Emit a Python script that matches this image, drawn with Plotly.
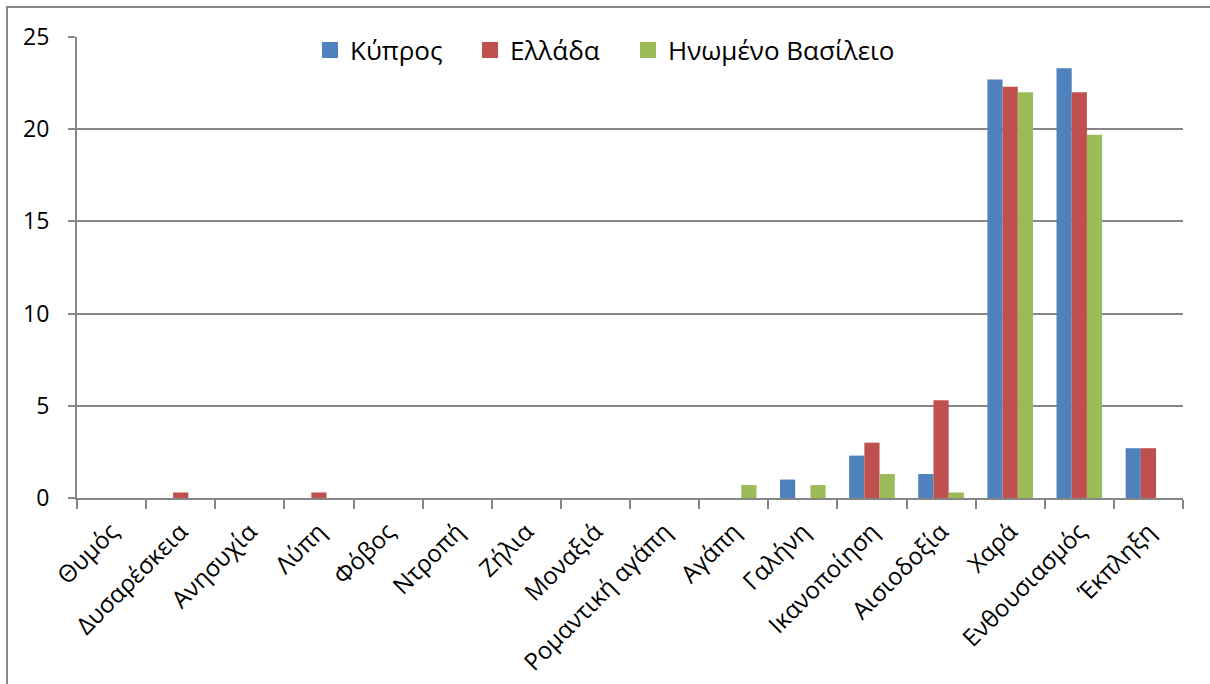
import plotly.graph_objects as go

categories = ["Θυμός", "Δυσαρέσκεια", "Ανησυχία", "Λύπη", "Φόβος", "Ντροπή", "Ζήλια",
              "Μοναξιά", "Ρομαντική αγάπη", "Αγάπη", "Γαλήνη", "Ικανοποίηση",
              "Αισιοδοξία", "Χαρά", "Ενθουσιασμός", "Έκπληξη"]
kypros = [0, 0, 0, 0, 0, 0, 0, 0, 0, 0, 1.0, 2.3, 1.3, 22.7, 23.3, 2.7]
ellada = [0, 0.3, 0, 0.3, 0, 0, 0, 0, 0, 0, 0, 3.0, 5.3, 22.3, 22.0, 2.7]
uk = [0, 0, 0, 0, 0, 0, 0, 0, 0, 0.7, 0.7, 1.3, 0.3, 22.0, 19.7, 0]
series_names = ["Κύπρος", "Ελλάδα", "Ηνωμένο Βασίλειο"]
colors = ["#4F81BD", "#C0504D", "#9BBB59"]

FONT = "Open Sans"
# plot area in px
L, R, T, B = 77, 1183, 37, 498
W, H = 1210, 684

legend_ids = ["legend", "legend2", "legend3"]
legend_left_px = [310, 470, 628]

fig = go.Figure()
for name, vals, col, lg in zip(series_names, [kypros, ellada, uk], colors, legend_ids):
    fig.add_trace(go.Bar(x=categories, y=vals, name=name, marker_color=col,
                         marker_line_width=0, showlegend=False, legendgroup=name))
    # legend-only marker (larger square like the original)
    fig.add_trace(go.Scatter(x=[None], y=[None], mode="markers", name=name,
                             marker=dict(symbol="square", size=17, color=col),
                             legendgroup=name, legend=lg, showlegend=True))

legend_common = dict(orientation="h", xanchor="left",
                     y=(B - 50) / (B - T), yanchor="middle",
                     font=dict(size=26, family=FONT), bgcolor="rgba(0,0,0,0)",
                     borderwidth=0)
layout_legends = {}
for lg, px in zip(legend_ids, legend_left_px):
    layout_legends[lg] = dict(legend_common, x=(px - L) / (R - L))

fig.update_layout(
    width=W, height=H,
    margin=dict(l=L, r=W - R, t=T, b=H - B, pad=0, autoexpand=False),
    paper_bgcolor="white", plot_bgcolor="white",
    barmode="group", bargap=0.34, bargroupgap=0,
    font=dict(family=FONT, color="black"),
    xaxis=dict(type="category", tickangle=-45, tickson="boundaries",
               ticks="outside", ticklen=9, tickcolor="#868686", tickwidth=2,
               showline=True, linecolor="#868686", linewidth=2,
               showgrid=False, ticklabelstandoff=8, automargin=False,
               tickfont=dict(size=24, family=FONT)),
    yaxis=dict(range=[0, 25], tickvals=[0, 5, 10, 15, 20, 25],
               ticks="outside", ticklen=7, tickcolor="#868686", tickwidth=2,
               showline=True, linecolor="#868686", linewidth=2,
               showgrid=True, gridcolor="#868686", gridwidth=2,
               zeroline=False, ticklabelstandoff=14, automargin=False,
               tickfont=dict(size=23, family=FONT)),
    **layout_legends,
)

# outer chart border
fig.add_shape(type="rect", xref="paper", yref="paper",
              x0=(7 - L) / (R - L), x1=(1220 - L) / (R - L),
              y0=(B - 700) / (B - T), y1=(B - 7) / (B - T),
              line=dict(color="#868686", width=2), fillcolor="rgba(0,0,0,0)",
              layer="below")

fig.write_html("out.html")
